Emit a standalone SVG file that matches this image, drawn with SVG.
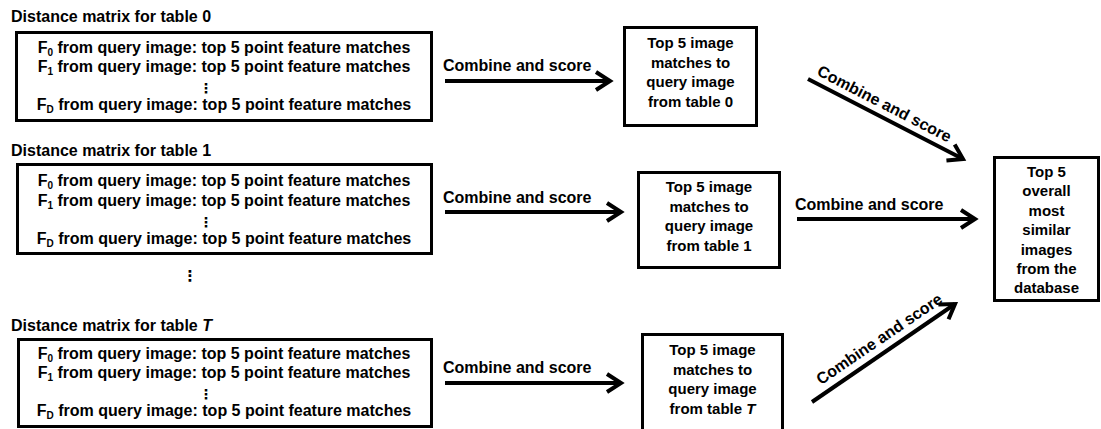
<svg xmlns="http://www.w3.org/2000/svg" width="1101" height="429" viewBox="0 0 1101 429">
  <defs>
    <style>
      text { font-family: "Liberation Sans", Arial, sans-serif; font-weight: bold; fill: #000; }
      .title { font-size: 16px; }
      .row { font-size: 16px; text-anchor: middle; }
      .sub { font-size: 10px; }
      .res { font-size: 15px; text-anchor: middle; }
      .lbl { font-size: 16px; }
      .dlbl { font-size: 16px; }
      .vdots { font-family: "DejaVu Sans", sans-serif; font-weight: bold; font-size: 14px; text-anchor: middle; }
      .box { fill: #fff; stroke: #000; stroke-width: 3; }
      .conn { fill: none; stroke: #000; stroke-width: 4; }
    </style>
    <marker id="chev" markerUnits="userSpaceOnUse" viewBox="-18 -12 22 24" refX="0" refY="0" markerWidth="22" markerHeight="24" orient="auto">
      <path d="M-14,-9 L0,0 L-14,9" fill="none" stroke="#000" stroke-width="4" stroke-linejoin="miter" stroke-linecap="butt"/>
    </marker>
  </defs>

  <!-- distance matrix, table 0 -->
  <g id="matrix0">
    <text class="title" x="11" y="22">Distance matrix for table 0</text>
    <rect class="box" x="16.5" y="32.5" width="415" height="88"/>
    <text class="row" x="224" y="53">F<tspan class="sub" dy="3">0</tspan><tspan dy="-3"> from query image: top 5 point feature matches</tspan></text>
    <text class="row" x="224" y="72">F<tspan class="sub" dy="3">1</tspan><tspan dy="-3"> from query image: top 5 point feature matches</tspan></text>
    <text class="vdots" x="206" y="93">⋮</text>
    <text class="row" x="224" y="110">F<tspan class="sub" dy="3">D</tspan><tspan dy="-3"> from query image: top 5 point feature matches</tspan></text>
  </g>

  <!-- distance matrix, table 1 -->
  <g id="matrix1">
    <text class="title" x="11" y="156">Distance matrix for table 1</text>
    <rect class="box" x="17.5" y="164.5" width="414" height="89"/>
    <text class="row" x="224" y="186">F<tspan class="sub" dy="3">0</tspan><tspan dy="-3"> from query image: top 5 point feature matches</tspan></text>
    <text class="row" x="224" y="206">F<tspan class="sub" dy="3">1</tspan><tspan dy="-3"> from query image: top 5 point feature matches</tspan></text>
    <text class="vdots" x="206" y="227">⋮</text>
    <text class="row" x="224" y="244">F<tspan class="sub" dy="3">D</tspan><tspan dy="-3"> from query image: top 5 point feature matches</tspan></text>
  </g>

  <!-- further tables elided -->
  <g id="gap">
    <text class="vdots" x="190" y="281" style="font-size:15px">⋮</text>
  </g>

  <!-- distance matrix, table T -->
  <g id="matrixT">
    <text class="title" x="11" y="331">Distance matrix for table <tspan font-style="italic">T</tspan></text>
    <rect class="box" x="18.5" y="339.5" width="413" height="87"/>
    <text class="row" x="224" y="359">F<tspan class="sub" dy="3">0</tspan><tspan dy="-3"> from query image: top 5 point feature matches</tspan></text>
    <text class="row" x="224" y="378">F<tspan class="sub" dy="3">1</tspan><tspan dy="-3"> from query image: top 5 point feature matches</tspan></text>
    <text class="vdots" x="206" y="399">⋮</text>
    <text class="row" x="224" y="416">F<tspan class="sub" dy="3">D</tspan><tspan dy="-3"> from query image: top 5 point feature matches</tspan></text>
  </g>

  <!-- per-table results -->
  <g id="top0">
    <rect class="box" x="624.5" y="27.5" width="132" height="98"/>
    <text class="res" x="690.5" y="48">Top 5 image</text>
    <text class="res" x="690.5" y="67.5">matches to</text>
    <text class="res" x="690.5" y="87">query image</text>
    <text class="res" x="690.5" y="106.5">from table 0</text>
  </g>
  <g id="top1">
    <rect class="box" x="638.5" y="172.5" width="141" height="95"/>
    <text class="res" x="709" y="192">Top 5 image</text>
    <text class="res" x="709" y="211.5">matches to</text>
    <text class="res" x="709" y="231">query image</text>
    <text class="res" x="709" y="250.5">from table 1</text>
  </g>
  <g id="topT">
    <rect class="box" x="642.5" y="334.5" width="140" height="100"/>
    <text class="res" x="712.5" y="355">Top 5 image</text>
    <text class="res" x="712.5" y="374.5">matches to</text>
    <text class="res" x="712.5" y="394">query image</text>
    <text class="res" x="712.5" y="413.5">from table <tspan font-style="italic">T</tspan></text>
  </g>

  <!-- overall result -->
  <g id="overall">
    <rect class="box" x="994.5" y="157.5" width="104" height="143"/>
    <text class="res" x="1046.5" y="177">Top 5</text>
    <text class="res" x="1046.5" y="196.4">overall</text>
    <text class="res" x="1046.5" y="215.8">most</text>
    <text class="res" x="1046.5" y="235.2">similar</text>
    <text class="res" x="1046.5" y="254.6">images</text>
    <text class="res" x="1046.5" y="274">from the</text>
    <text class="res" x="1046.5" y="293.4">database</text>
  </g>

  <!-- connectors -->
  <g id="connectors">
    <line class="conn" x1="445" y1="81" x2="610" y2="81" marker-end="url(#chev)"/>
    <text class="lbl" x="443" y="71">Combine and score</text>

    <line class="conn" x1="445" y1="212" x2="621" y2="212" marker-end="url(#chev)"/>
    <text class="lbl" x="443" y="203">Combine and score</text>

    <line class="conn" x1="445" y1="383" x2="621" y2="383" marker-end="url(#chev)"/>
    <text class="lbl" x="443" y="373">Combine and score</text>

    <line class="conn" x1="797" y1="219" x2="975" y2="219" marker-end="url(#chev)"/>
    <text class="lbl" x="795" y="210">Combine and score</text>

    <line class="conn" x1="808" y1="79" x2="963" y2="159" marker-end="url(#chev)"/>
    <text class="dlbl" transform="translate(816,74.6) rotate(27.3)">Combine and score</text>

    <line class="conn" x1="812" y1="402" x2="955" y2="304" marker-end="url(#chev)"/>
    <text class="dlbl" transform="translate(821,385.3) rotate(-34.3)">Combine and score</text>
  </g>
</svg>
